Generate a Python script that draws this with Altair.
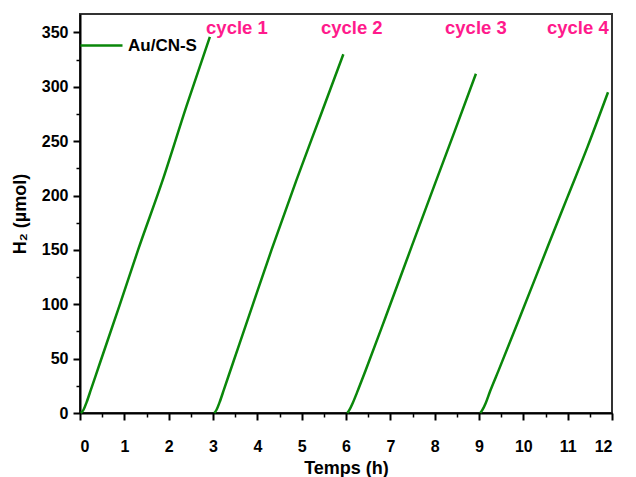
import altair as alt
import pandas as pd

# Cycle data (time in h, H2 in µmol)
c1_t = [0.02, 0.08, 0.15, 0.25, 0.45, 0.90, 1.31, 1.88, 2.40, 2.93]
c1_y = [0, 3, 10, 22, 46, 100, 150, 216, 282, 346]
c2_t = [3.03, 3.08, 3.15, 3.25, 3.45, 3.90, 4.32, 4.88, 5.42, 5.94]
c2_y = [0, 3, 10, 22, 46, 100, 150, 214, 273, 330]
c3_t = [6.03, 6.08, 6.15, 6.25, 6.45, 6.90, 7.48, 8.00, 8.45, 8.93]
c3_y = [0, 3, 9, 19, 40, 89, 153, 210, 259, 312]
c4_t = [9.03, 9.08, 9.15, 9.25, 9.44, 9.95, 10.56, 11.00, 11.45, 11.91]
c4_y = [0, 3, 9, 20, 39, 91, 154, 199, 245, 295]

label_text = ["cycle 1", "cycle 2", "cycle 3", "cycle 4"]
label_x = [3.54, 6.13, 8.93, 11.23]
label_y = [354, 354, 354, 354]

x_major = list(range(0, 13))
x_minor = [i + 0.5 for i in range(0, 12)]
y_major = list(range(0, 351, 50))
y_minor = [25 + 50 * i for i in range(0, 7)]

rows = []
for name, ts, ys in [("1", c1_t, c1_y), ("2", c2_t, c2_y), ("3", c3_t, c3_y), ("4", c4_t, c4_y)]:
    for t, v in zip(ts, ys):
        rows.append({"t": t, "h2": v, "cycle": name, "series": "Au/CN-S"})
df = pd.DataFrame(rows)
lab = pd.DataFrame({"text": label_text, "t": label_x, "h2": label_y})

FONT = "Liberation Sans"
xscale = alt.Scale(domain=[0, 12], nice=False, zero=False)
yscale = alt.Scale(domain=[0, 367], nice=False)

lines = alt.Chart(df).mark_line(strokeWidth=2.5, interpolate="monotone").encode(
    x=alt.X("t:Q", scale=xscale,
            axis=alt.Axis(values=x_major, title="Temps (h)", orient="bottom",
                          tickSize=7, tickWidth=2, labelPadding=18, titlePadding=5,
                          domainWidth=2, domainColor="black", tickColor="black")),
    y=alt.Y("h2:Q", scale=yscale,
            axis=alt.Axis(values=y_major, title="H₂ (µmol)", orient="left",
                          tickSize=7, tickWidth=2, labelPadding=5, titlePadding=12,
                          domainWidth=2, domainColor="black", tickColor="black")),
    detail="cycle:N",
    color=alt.Color("series:N", scale=alt.Scale(range=["#0a870a"]),
                    legend=alt.Legend(title=None, orient="none", legendX=-1, legendY=9,
                                      symbolType="stroke", symbolSize=1764,
                                      symbolStrokeWidth=2.5, labelFont=FONT,
                                      labelFontSize=17, labelFontWeight="bold",
                                      labelColor="black", padding=0, labelOffset=4)),
)

labels = alt.Chart(lab).mark_text(font=FONT, fontSize=18.5, fontWeight="bold",
                                  color="#ff1a8c", baseline="middle", align="center").encode(
    x=alt.X("t:Q", scale=xscale,
            axis=alt.Axis(values=x_minor, labels=False, title=None, orient="bottom",
                          tickSize=4, tickWidth=1.5, domain=False, tickColor="black")),
    y=alt.Y("h2:Q", scale=yscale,
            axis=alt.Axis(values=y_minor, labels=False, title=None, orient="left",
                          tickSize=4, tickWidth=1.5, domain=False, tickColor="black")),
    text="text:N",
)

chart = alt.layer(lines, labels).resolve_axis(x="independent", y="independent").properties(
    width=532, height=399,
    autosize=alt.AutoSizeParams(type="none"),
    padding={"left": 72, "top": 6, "right": 16, "bottom": 64},
).configure_view(stroke="#333333", strokeWidth=2).configure_axis(
    grid=False, labelFont=FONT, labelFontSize=16, labelFontWeight="bold", labelColor="black",
    titleFont=FONT, titleFontSize=18, titleFontWeight="bold", titleColor="black",
)

chart.save("out.html", embed_options={"renderer": "svg", "actions": False})
